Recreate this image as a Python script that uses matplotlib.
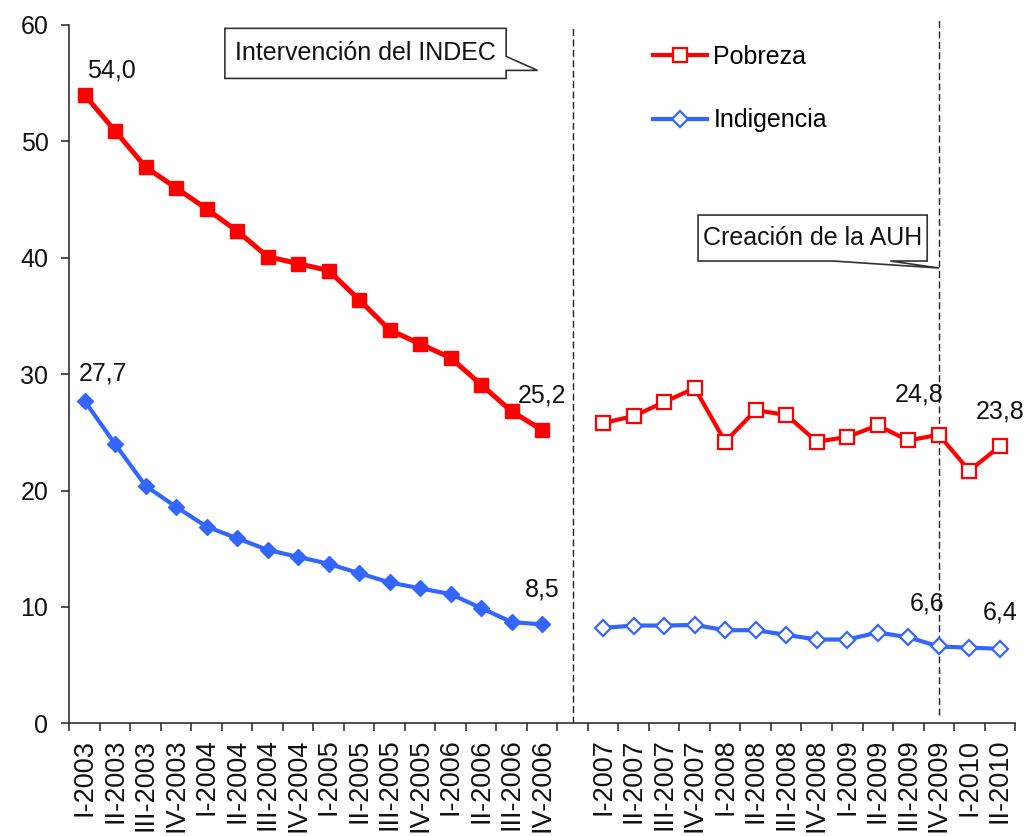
import numpy as np
import matplotlib
matplotlib.use("Agg")
import matplotlib.pyplot as plt
from matplotlib.lines import Line2D
from matplotlib.patches import Polygon

plt.rcParams['font.family'] = ['Liberation Sans', 'DejaVu Sans']

# ---------------- data ----------------
quarters_a = ["I-2003", "II-2003", "III-2003", "IV-2003",
              "I-2004", "II-2004", "III-2004", "IV-2004",
              "I-2005", "II-2005", "III-2005", "IV-2005",
              "I-2006", "II-2006", "III-2006", "IV-2006"]
quarters_b = ["I-2007", "II-2007", "III-2007", "IV-2007",
              "I-2008", "II-2008", "III-2008", "IV-2008",
              "I-2009", "II-2009", "III-2009", "IV-2009",
              "I-2010", "II-2010"]

pobreza_a = [54.0, 50.9, 47.8, 46.0, 44.2, 42.3, 40.1, 39.5,
             38.9, 36.4, 33.8, 32.6, 31.4, 29.1, 26.8, 25.2]
indigencia_a = [27.7, 24.0, 20.4, 18.6, 16.9, 15.9, 14.9, 14.3,
                13.7, 12.9, 12.1, 11.6, 11.1, 9.9, 8.7, 8.5]
pobreza_b = [25.8, 26.4, 27.6, 28.8, 24.2, 26.9, 26.5, 24.2,
             24.6, 25.6, 24.3, 24.8, 21.7, 23.8]
indigencia_b = [8.2, 8.4, 8.4, 8.45, 8.0, 8.0, 7.6, 7.2,
                7.2, 7.8, 7.4, 6.6, 6.5, 6.4]

yticks = [0, 10, 20, 30, 40, 50, 60]

RED = "#FF0000"
BLUE = "#3366FF"

# positions: one empty category slot between the two periods
gap = 1
xa = np.arange(len(quarters_a))
xb = np.arange(len(quarters_b)) + len(quarters_a) + gap
n_slots = len(quarters_a) + gap + len(quarters_b)

fig = plt.figure(figsize=(10.28, 8.36), dpi=100)
ax = fig.add_axes([0.0674, 0.1348, 0.9200, 0.8353])

# series
ax.plot(xa, pobreza_a, color=RED, lw=3.6, marker='s', ms=10,
        mfc=RED, mec=RED, mew=1, zorder=4, solid_joinstyle='miter')
ax.plot(xb, pobreza_b, color=RED, lw=3.0, marker='s', ms=9.4,
        mfc='white', mec=RED, mew=1.6, zorder=4)
ax.plot(xa, indigencia_a, color=BLUE, lw=3.0, marker='D', ms=7.8,
        mfc=BLUE, mec=BLUE, mew=1, zorder=4)
ax.plot(xb, indigencia_b, color=BLUE, lw=3.0, marker='D', ms=7.8,
        mfc='white', mec=BLUE, mew=1.6, zorder=4)

# axes styling
ax.set_xlim(-0.5, n_slots - 0.5)
ax.set_ylim(0, 60)
ax.set_yticks(yticks)
ax.set_yticklabels([str(v) for v in yticks])
for s in ['top', 'right']:
    ax.spines[s].set_visible(False)
for s in ['left', 'bottom']:
    ax.spines[s].set_linewidth(1.1)
    ax.spines[s].set_color('#222222')

ax.set_xticks(np.arange(n_slots + 1) - 0.5)
ax.set_xticklabels([])
labels = quarters_a + [""] * gap + quarters_b
ax.set_xticks(np.arange(n_slots), minor=True)
ax.set_xticklabels(labels, minor=True, rotation=90, fontsize=19.5,
                   va='top', ha='center', color='#111111')
ax.tick_params(axis='x', which='major', length=6, width=1.1, color='#222222')
ax.tick_params(axis='x', which='minor', length=0, pad=11)
ax.tick_params(axis='y', length=6, width=1.1, color='#222222', labelsize=18,
               pad=9, labelcolor='#111111')

# vertical dashed reference lines
x_gap = len(quarters_a) + (gap - 1) / 2.0
ax.plot([x_gap, x_gap], [0, 59.85], color='#222222', lw=1.0,
        dashes=(5, 2.5), clip_on=False, zorder=2)
x_auh = xb[quarters_b.index("IV-2009")]
ax.plot([x_auh, x_auh], [0.7, 60.7], color='#222222', lw=1.0,
        dashes=(5, 2.5), clip_on=False, zorder=2)

# data labels
def fmt(v):
    return f"{v:.1f}".replace('.', ',')

ann = [
    (xa[0], pobreza_a[0], (19.4, 17.3)),
    (xa[0], indigencia_a[0], (13.3, 19.4)),
    (xa[-1], pobreza_a[-1], (0, 25.2)),
    (xa[-1], indigencia_a[-1], (0, 24.8)),
    (x_auh, pobreza_b[11], (-14.4, 29.2)),
    (xb[-1], pobreza_b[-1], (0, 24.9)),
    (x_auh, indigencia_b[11], (-8.4, 31.0)),
    (xb[-1], indigencia_b[-1], (0, 25.8)),
]
for x, y, off in ann:
    ax.annotate(fmt(y), (x, y), xytext=off, textcoords='offset points',
                ha='center', va='center', fontsize=18, color='#111111',
                zorder=6, annotation_clip=False)

# callouts
def callout(verts, text, tx, ty):
    poly = Polygon(verts, closed=True, facecolor='white', edgecolor='#333333',
                   lw=1.2, zorder=5, clip_on=False, joinstyle='miter')
    ax.add_patch(poly)
    ax.text(tx, ty, text, ha='center', va='center', fontsize=18,
            color='#111111', zorder=6)

x0, x1, yt, yb = 4.6, 13.82, 59.71, 55.41
callout([(x0, yt), (x1, yt), (x1, 57.3), (14.85, 56.1), (x1, 56.1),
         (x1, yb), (x0, yb)], "Intervención del INDEC",
        (x0 + x1) / 2, (yt + yb) / 2)

x0, x1, yt, yb = 20.11, 27.62, 43.67, 39.72
callout([(x0, yt), (x1, yt), (x1, yb), (26.41, yb), (x_auh, 39.12),
         (24.54, yb), (x0, yb)], "Creación de la AUH",
        (x0 + x1) / 2, (yt + yb) / 2)

# legend
handles = [
    Line2D([], [], color=RED, lw=3.0, marker='s', ms=9.4, mfc='white',
           mec=RED, mew=1.6),
    Line2D([], [], color=BLUE, lw=3.0, marker='D', ms=7.8, mfc='white',
           mec=BLUE, mew=1.6),
]
fig.legend(handles, ["Pobreza", "Indigencia"], loc='upper left',
           bbox_to_anchor=(653 / 1028, 1 - 45 / 836), frameon=False,
           fontsize=18, handlelength=2.16, handletextpad=0.25,
           labelspacing=1.58, borderpad=0, borderaxespad=0)

fig.savefig("out.png", dpi=100, facecolor='white')
